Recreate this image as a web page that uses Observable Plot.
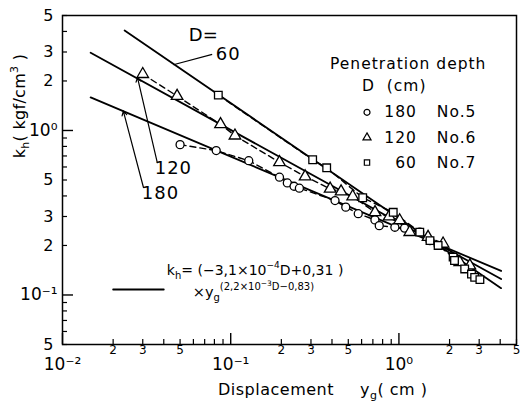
<!DOCTYPE html>
<html><head><meta charset="utf-8">
<script src="https://cdn.jsdelivr.net/npm/d3@7"></script>
<script src="https://cdn.jsdelivr.net/npm/@observablehq/plot@0.6"></script>
<style>
body{margin:0;background:#fff;}
#chart svg{display:block;}
</style></head><body><div id="chart"></div>
<script>
const FONT = "DejaVu Sans";

// Fitted straight lines (log-log), endpoints
const fitDepth = ["60","60","120","120","180","180"];
const fitX = [0.0234, 4.05, 0.0147, 4.05, 0.0147, 4.05];
const fitY = [4.05, 0.11, 2.97, 0.125, 1.59, 0.14];

// Measured points: No.5 (D=180, circles)
const no5X = [0.05, 0.082, 0.128, 0.195, 0.217, 0.238, 0.256, 0.417, 0.483, 0.573, 0.72, 0.764, 0.946, 1.08, 1.33, 1.53, 1.71];
const no5Y = [0.82, 0.755, 0.655, 0.52, 0.48, 0.458, 0.446, 0.375, 0.342, 0.312, 0.286, 0.264, 0.258, 0.255, 0.241, 0.214, 0.20];
// No.6 (D=120, triangles)
const no6X = [0.03, 0.048, 0.087, 0.106, 0.195, 0.277, 0.39, 0.453, 0.531, 0.721, 0.875, 1.01, 1.16, 1.49, 1.83, 2.3, 2.64];
const no6Y = [2.2, 1.62, 1.09, 0.93, 0.641, 0.525, 0.442, 0.425, 0.397, 0.318, 0.30, 0.284, 0.241, 0.225, 0.205, 0.158, 0.151];
// No.7 (D=60, squares)
const no7X = [0.0844, 0.307, 0.372, 0.609, 0.925, 1.33, 1.53, 1.71, 2.10, 2.14, 2.46, 2.70, 2.82, 3.03];
const no7Y = [1.64, 0.664, 0.593, 0.390, 0.318, 0.241, 0.214, 0.20, 0.170, 0.162, 0.144, 0.134, 0.128, 0.124];

// Ticks
const xMajor = [0.01, 0.1, 1];
const xMajorLabels = ["10\u207B\u00B2", "10\u207B\u00B9", "10\u2070"];
const xMinor = [0.02,0.03,0.04,0.05,0.06,0.07,0.08,0.09,0.2,0.3,0.4,0.5,0.6,0.7,0.8,0.9,2,3,4,5];
const xMinorLab = [0.02,0.03,0.05,0.2,0.3,0.5,2,3,5];
const xMinorLabText = ["2","3","5","2","3","5","2","3","5"];
const yMajor = [0.1, 1];
const yMajorLabels = ["10\u207B\u00B9", "10\u2070"];
const yMinor = [0.05,0.06,0.07,0.08,0.09,0.2,0.3,0.4,0.5,0.6,0.7,0.8,0.9,2,3,4,5];
const yMinorLab = [0.05,0.2,0.3,0.5,2,3,5];
const yMinorLabText = ["5","2","3","5","2","3","5"];

// Curve annotations
const annText = ["D=", "60", "120", "180"];
const annX = [0.0687, 0.0966, 0.0456, 0.0382];
const annY = [3.78, 2.90, 0.587, 0.414];
const leadX1 = [0.0776, 0.0366, 0.0303];
const leadY1 = [2.90, 0.638, 0.45];
const leadX2 = [0.0456, 0.0279, 0.023];
const leadY2 = [2.51, 2.1, 1.31];

// Legend
const legTitle = ["Penetration depth", "D  (cm)"];
const legTitleX = [0.3895, 0.603];
const legTitleY = [2.52, 1.85];
const legSymbol = ["circle", "triangle", "square"];
const legDepth = ["180", "120", "60"];
const legNo = ["No.5", "No.6", "No.7"];
const legRowY = [1.29, 0.906, 0.638];
const legSymX = 0.646, legDepthX = 1.28, legNoX = 1.68;

// Equation key
const keyLineX = [0.02, 0.04];
const keyLineY = [0.108, 0.108];
const eqX = [0.042, 0.0599];
const eqY = [0.131, 0.097];

const fit = fitX.map((x, i) => ({x, y: fitY[i], D: fitDepth[i]}));
const mk = (xs, ys, s) => xs.map((x, i) => ({x, y: ys[i], s}));
const pts5 = mk(no5X, no5Y, "No.5");
const pts6 = mk(no6X, no6Y, "No.6");
const pts7 = mk(no7X, no7Y, "No.7");

const W = 520, H = 404, ML = 62, MR = 4, MT = 15, MB = 60;
const innerW = W - ML - MR, innerH = H - MT - MB;

const dotOpts = {x: "x", y: "y", fill: "white", stroke: "black", strokeWidth: 1.3, r: 4};
const dashOpts = {x: "x", y: "y", stroke: "black", strokeWidth: 1.4, strokeDasharray: "6,4"};

const chart = Plot.plot({
  width: W, height: H,
  marginLeft: ML, marginRight: MR, marginTop: MT, marginBottom: MB,
  x: {type: "log", domain: [0.01, 5], axis: null},
  y: {type: "log", domain: [0.05, 5], axis: null},
  style: {fontFamily: FONT, background: "white", color: "black"},
  marks: [
    // inward ticks
    Plot.tickX(xMinor, {x: d => d, insetTop: innerH - 5, stroke: "black", strokeWidth: 1.2}),
    Plot.tickX(xMajor, {x: d => d, insetTop: innerH - 11, stroke: "black", strokeWidth: 1.4}),
    Plot.tickY(yMinor, {y: d => d, insetRight: innerW - 5, stroke: "black", strokeWidth: 1.2}),
    Plot.tickY(yMajor, {y: d => d, insetRight: innerW - 11, stroke: "black", strokeWidth: 1.4}),
    // tick labels
    Plot.text(xMajor, {x: d => d, text: (d, i) => xMajorLabels[i], frameAnchor: "bottom", lineAnchor: "middle", dy: 20, fontSize: 17, fill: "black"}),
    Plot.text(xMinorLab, {x: d => d, text: (d, i) => xMinorLabText[i], frameAnchor: "bottom", lineAnchor: "middle", dy: 6, fontSize: 12, fill: "black"}),
    Plot.text(yMajor, {y: d => d, text: (d, i) => yMajorLabels[i], frameAnchor: "left", dx: -5, textAnchor: "end", fontSize: 17, fill: "black"}),
    Plot.text(yMinorLab, {y: d => d, text: (d, i) => yMinorLabText[i], frameAnchor: "left", dx: -9, textAnchor: "end", fontSize: 16, fill: "black"}),
    Plot.frame({stroke: "black", strokeWidth: 1.5}),
    Plot.line(fit, {x: "x", y: "y", z: "D", stroke: "black", strokeWidth: 1.8}),
    Plot.line(pts5, dashOpts),
    Plot.line(pts6, dashOpts),
    Plot.line(pts7, dashOpts),
    Plot.dot(pts5, {...dotOpts, symbol: "circle"}),
    Plot.dot(pts6, {...dotOpts, symbol: "triangle", r: 4.3}),
    Plot.dot(pts7, {...dotOpts, symbol: "square", r: 4.3}),
    Plot.text(annText, {x: (d, i) => annX[i], y: (d, i) => annY[i], text: d => d, fontSize: 18, textAnchor: "middle", fill: "black"}),
    Plot.link([0], {x1: () => leadX1[0], y1: () => leadY1[0], x2: () => leadX2[0], y2: () => leadY2[0], stroke: "black", strokeWidth: 1.2}),
    Plot.arrow([1, 2], {x1: i => leadX1[i], y1: i => leadY1[i], x2: i => leadX2[i], y2: i => leadY2[i], stroke: "black", strokeWidth: 1.2, headLength: 6}),
    Plot.text(legTitle, {x: (d, i) => legTitleX[i], y: (d, i) => legTitleY[i], text: d => d, fontSize: 15.5, textAnchor: "start", fill: "black"}),
    Plot.dot(legSymbol, {x: () => legSymX, y: (d, i) => legRowY[i], symbol: d => d, r: 3, fill: "white", stroke: "black", strokeWidth: 1.2}),
    Plot.text(legDepth, {x: () => legDepthX, y: (d, i) => legRowY[i], text: d => d, fontSize: 15.5, textAnchor: "end", fill: "black"}),
    Plot.text(legNo, {x: () => legNoX, y: (d, i) => legRowY[i], text: d => d, fontSize: 15.5, textAnchor: "start", fill: "black"}),
    Plot.line(keyLineX.map((x, i) => ({x, y: keyLineY[i]})), {x: "x", y: "y", stroke: "black", strokeWidth: 1.8})
  ]
});

document.getElementById("chart").appendChild(chart);

const svg = chart;
const sx = chart.scale("x"), sy = chart.scale("y");

// letter spacing for the legend's texts
const spaced = new Set([...legTitle, ...legDepth, ...legNo]);
svg.querySelectorAll("text").forEach(t => { if (spaced.has(t.textContent)) t.style.letterSpacing = "1px"; });

function rich(x, y, parts, size, opts = {}) {
  const t = d3.select(svg).append("text")
    .attr("x", x).attr("y", y)
    .attr("font-family", FONT).attr("font-size", size)
    .attr("fill", "black").attr("text-anchor", opts.anchor || "start")
    .style("letter-spacing", (opts.ls || 0) + "px");
  if (opts.rotate) t.attr("transform", `rotate(${opts.rotate},${x},${y})`);
  let cur = 0;
  for (const [s, shift, fs] of parts) {
    t.append("tspan").attr("dy", shift - cur).attr("font-size", fs || size).text(s);
    cur = shift;
  }
}

// Equation
rich(sx.apply(eqX[0]), sy.apply(eqY[0]), [
  ["k", 0], ["h", 4, 10], ["= (\u22123,1\u00D710", 0], ["\u22124", -7, 9], ["D+0,31 )", 0]
], 14);
rich(sx.apply(eqX[1]), sy.apply(eqY[1]), [
  ["\u00D7y", 0], ["g", 4, 10], ["(2,2\u00D710", -7, 10], ["\u22123", -11, 7.5], ["D\u22120,83)", -7, 10]
], 14.5);

// Axis titles
rich(25, 106, [["k", 0], ["h", 4, 11], ["( kgf/cm", 0], ["3", -7, 11], [" )", 0]], 16, {anchor: "middle", rotate: -90, ls: 0.3});
rich(218, 395, [["Displacement", 0]], 16, {ls: 0.5});
rich(360, 395, [["y", 0], ["g", 4, 11], ["( cm )", 0]], 16, {ls: 0.5});
</script></body></html>
